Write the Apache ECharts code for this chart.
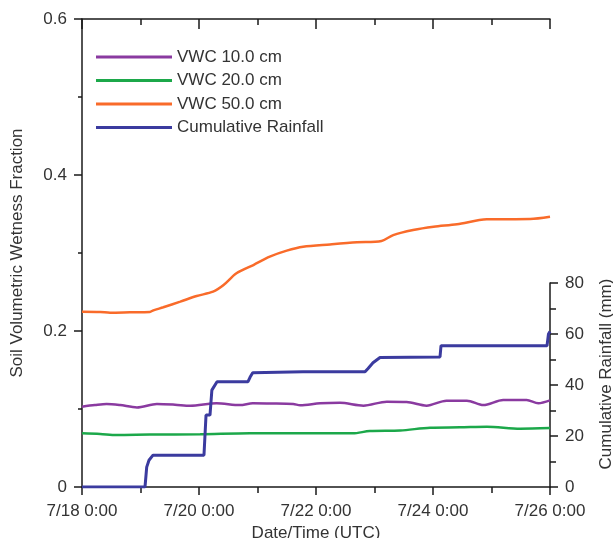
<!DOCTYPE html>
<html>
<head>
<meta charset="utf-8">
<script src="https://cdn.jsdelivr.net/npm/echarts@6/dist/echarts.min.js"></script>
<style>
html,body{margin:0;padding:0;background:#fff;}
#chart{width:613px;height:538px;}
</style>
</head>
<body>
<div id="chart"></div>
<script>
// x values are days since 7/18 0:00 (UTC)
const xTickLabels = ['7/18 0:00', '7/20 0:00', '7/22 0:00', '7/24 0:00', '7/26 0:00'];
const leftTickLabels = ['0', '0.2', '0.4', '0.6'];
const rightTickLabels = ['0', '20', '40', '60', '80'];

const vwc10Days   = [0, 0.22, 0.42, 0.65, 0.94, 1.28, 1.59, 1.85, 2.30, 2.70, 2.92, 3.21, 3.61, 3.73, 4.07, 4.41, 4.81, 5.21, 5.55, 5.89, 6.23, 6.58, 6.86, 7.20, 7.60, 7.80, 8.00];
const vwc10Values = [0.103, 0.105, 0.1064, 0.105, 0.102, 0.1064, 0.1055, 0.1042, 0.1073, 0.105, 0.1073, 0.107, 0.1064, 0.1047, 0.1073, 0.108, 0.1043, 0.1094, 0.109, 0.1043, 0.1107, 0.1107, 0.105, 0.1115, 0.1115, 0.1073, 0.111];

const vwc20Days   = [0, 0.31, 0.59, 1.16, 2.02, 2.87, 4.07, 4.63, 4.92, 5.44, 5.95, 6.46, 6.92, 7.49, 8.00];
const vwc20Values = [0.0688, 0.068, 0.0667, 0.0672, 0.0675, 0.069, 0.0688, 0.0688, 0.0718, 0.0725, 0.076, 0.0765, 0.0773, 0.0748, 0.0756];

const vwc50Days   = [0, 0.31, 0.48, 0.82, 1.16, 1.22, 1.39, 1.68, 1.96, 2.24, 2.42, 2.64, 2.93, 3.21, 3.50, 3.78, 4.24, 4.70, 5.12, 5.32, 5.66, 6.01, 6.41, 6.92, 7.66, 8.00];
const vwc50Values = [0.2248, 0.2245, 0.2235, 0.224, 0.2245, 0.2265, 0.2304, 0.2376, 0.2449, 0.2504, 0.259, 0.274, 0.2846, 0.2953, 0.303, 0.308, 0.311, 0.3137, 0.3154, 0.323, 0.3295, 0.3337, 0.3368, 0.3432, 0.3436, 0.3465];

const rainDays   = [0, 1.077, 1.106, 1.145, 1.214, 2.085, 2.12, 2.188, 2.22, 2.308, 2.838, 2.872, 2.918, 3.778, 4.838, 4.89, 4.974, 5.094, 6.12, 6.137, 7.949, 7.974, 8.0];
const rainValues = [0, 0, 7.8, 10.5, 12.5, 12.5, 28.2, 28.2, 38, 41.3, 41.3, 43, 44.8, 45.2, 45.2, 46.5, 48.7, 50.8, 51, 55.4, 55.4, 60, 61];

const seriesNames = ['VWC 10.0 cm', 'VWC 20.0 cm', 'VWC 50.0 cm', 'Cumulative Rainfall'];
const seriesColors = ['#8a3aa0', '#1ca84a', '#f96b2a', '#3b3b9f'];

function pairs(xs, ys) { return xs.map((x, i) => [x, ys[i]]); }

const FONT = '"Liberation Sans", Arial, Helvetica, sans-serif';
const TXT = '#333';
const AX = '#1a1a1a';

const chart = echarts.init(document.getElementById('chart'), null, {renderer: 'canvas'});
const option = {
  animation: false,
  backgroundColor: '#fff',
  textStyle: {fontFamily: FONT},
  color: seriesColors,
  grid: [
    {left: 82, right: 63, top: 19, bottom: 51, containLabel: false, outerBoundsMode: 'none'},
    {left: 82, right: 63, top: 283, bottom: 51, containLabel: false, outerBoundsMode: 'none'}
  ],
  legend: {
    orient: 'vertical', left: 96, top: 48.5, padding: 0,
    icon: 'rect', itemWidth: 76, itemHeight: 3, itemGap: 6.5,
    textStyle: {fontSize: 17, color: TXT, fontFamily: FONT, lineHeight: 17},
    data: seriesNames
  },
  xAxis: [
    {
      gridIndex: 0, type: 'value', min: 0, max: 8, interval: 2, position: 'bottom',
      axisLine: {show: true, onZero: false, lineStyle: {color: AX, width: 1.5}},
      axisTick: {show: true, length: 8, lineStyle: {color: AX, width: 1.5}},
      minorTick: {show: true, splitNumber: 2, length: 6, lineStyle: {color: AX, width: 1.5}},
      axisLabel: {fontSize: 17, color: TXT, margin: 16, fontFamily: FONT,
        formatter: v => xTickLabels[Math.round(v / 2)] || ''},
      splitLine: {show: false},
      name: 'Date/Time (UTC)', nameLocation: 'middle', nameGap: 36,
      nameTextStyle: {fontSize: 17, color: TXT, fontFamily: FONT}
    },
    {
      gridIndex: 0, type: 'value', min: 0, max: 8, interval: 2, position: 'top',
      axisLine: {show: true, onZero: false, lineStyle: {color: AX, width: 1.5}},
      axisTick: {show: true, inside: true, length: 10, lineStyle: {color: AX, width: 1.5}},
      minorTick: {show: true, splitNumber: 2, length: 6, lineStyle: {color: AX, width: 1.5}},
      axisLabel: {show: false},
      splitLine: {show: false}
    },
    {gridIndex: 1, type: 'value', min: 0, max: 8, show: false}
  ],
  yAxis: [
    {
      gridIndex: 0, type: 'value', min: 0, max: 0.6, interval: 0.2, position: 'left',
      axisLine: {show: true, onZero: false, lineStyle: {color: AX, width: 1.5}},
      axisTick: {show: true, length: 8, lineStyle: {color: AX, width: 1.5}},
      minorTick: {show: true, splitNumber: 2, length: 4, lineStyle: {color: AX, width: 1.5}},
      axisLabel: {fontSize: 17, color: TXT, margin: 15, fontFamily: FONT,
        formatter: v => leftTickLabels[Math.round(v / 0.2)] || ''},
      splitLine: {show: false},
      name: 'Soil Volumetric Wetness Fraction', nameLocation: 'middle', nameGap: 56, nameRotate: 90,
      nameTextStyle: {fontSize: 17, color: TXT, fontFamily: FONT}
    },
    {
      gridIndex: 1, type: 'value', min: 0, max: 80, interval: 20, position: 'right',
      axisLine: {show: true, onZero: false, lineStyle: {color: AX, width: 1.5}},
      axisTick: {show: true, length: 8, lineStyle: {color: AX, width: 1.5}},
      minorTick: {show: true, splitNumber: 2, length: 6, lineStyle: {color: AX, width: 1.5}},
      axisLabel: {fontSize: 17, color: TXT, margin: 15, fontFamily: FONT,
        formatter: v => rightTickLabels[Math.round(v / 20)] || ''},
      splitLine: {show: false},
      name: 'Cumulative Rainfall (mm)', nameLocation: 'middle', nameGap: 48, nameRotate: 90,
      nameTextStyle: {fontSize: 17, color: TXT, fontFamily: FONT, padding: [0, 0, 0, 22]}
    }
  ],
  series: [
    {name: seriesNames[0], type: 'line', xAxisIndex: 0, yAxisIndex: 0, data: pairs(vwc10Days, vwc10Values),
      showSymbol: false, symbol: 'none', smooth: 0.3, lineStyle: {width: 2.5, color: seriesColors[0]}, itemStyle: {color: seriesColors[0]}},
    {name: seriesNames[1], type: 'line', xAxisIndex: 0, yAxisIndex: 0, data: pairs(vwc20Days, vwc20Values),
      showSymbol: false, symbol: 'none', smooth: 0.3, lineStyle: {width: 2.5, color: seriesColors[1]}, itemStyle: {color: seriesColors[1]}},
    {name: seriesNames[2], type: 'line', xAxisIndex: 0, yAxisIndex: 0, data: pairs(vwc50Days, vwc50Values),
      showSymbol: false, symbol: 'none', smooth: 0.3, lineStyle: {width: 2.5, color: seriesColors[2]}, itemStyle: {color: seriesColors[2]}},
    {name: seriesNames[3], type: 'line', xAxisIndex: 2, yAxisIndex: 1, data: pairs(rainDays, rainValues),
      showSymbol: false, symbol: 'none', smooth: false, z: 5, lineStyle: {width: 3, color: seriesColors[3]}, itemStyle: {color: seriesColors[3]}}
  ]
};
chart.setOption(option);
</script>
</body>
</html>
